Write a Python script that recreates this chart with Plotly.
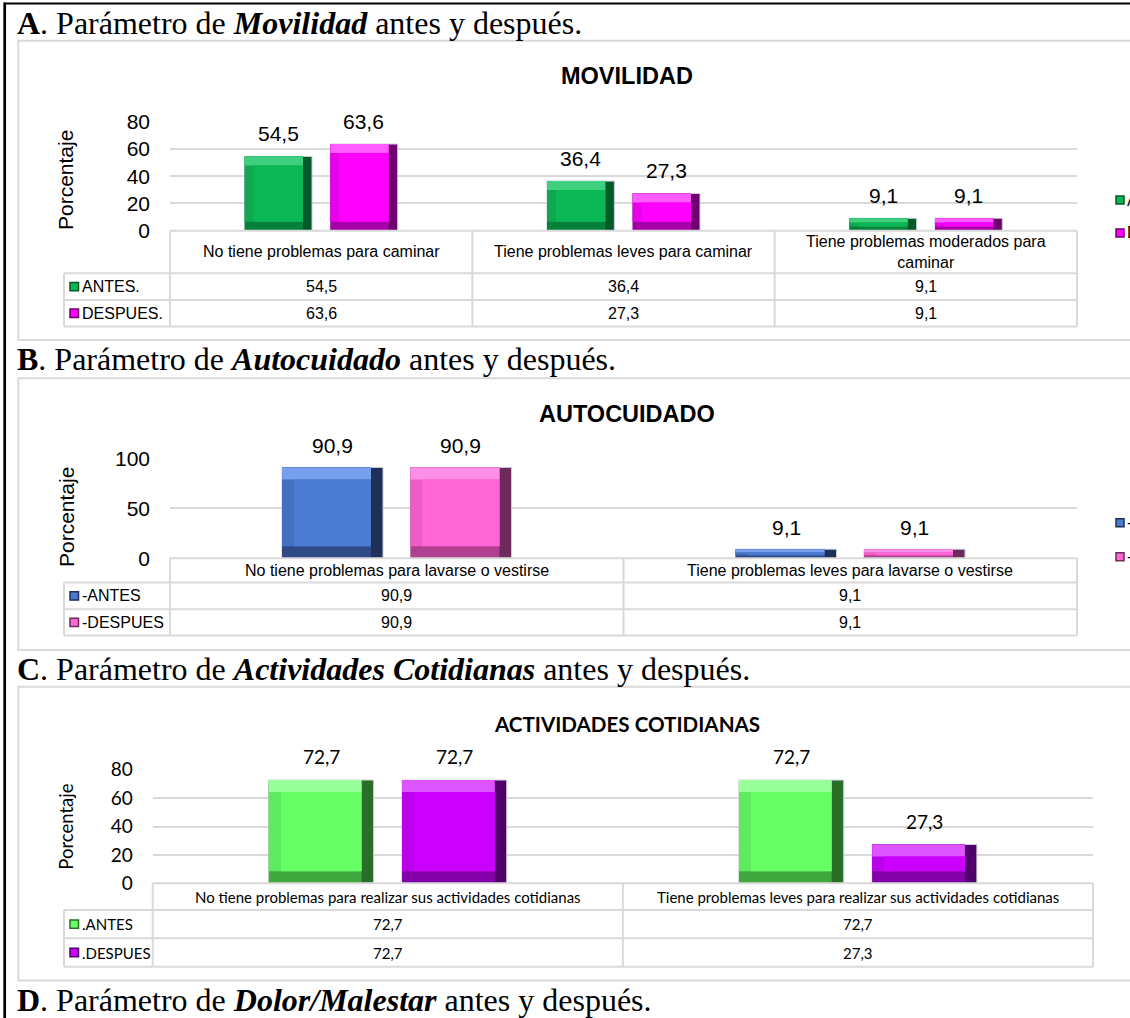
import plotly.graph_objects as go

W_PX, H_PX = 1130, 1018


def px(x):
    return x / W_PX


def py(y):
    return 1 - y / H_PX


# ---------------- data ----------------
mov_categories = ["No tiene problemas para caminar",
                  "Tiene problemas leves para caminar",
                  "Tiene problemas moderados para<br>caminar"]
mov_series = ["ANTES.", "DESPUES."]
mov_antes = [54.5, 36.4, 9.1]
mov_despues = [63.6, 27.3, 9.1]
mov_ticks = [0, 20, 40, 60, 80]

auto_categories = ["No tiene problemas para lavarse o vestirse",
                   "Tiene problemas leves para lavarse o vestirse"]
auto_series = ["-ANTES", "-DESPUES"]
auto_antes = [90.9, 9.1]
auto_despues = [90.9, 9.1]
auto_ticks = [0, 50, 100]

act_categories = ["No tiene problemas para realizar sus actividades cotidianas",
                  "Tiene problemas leves para realizar sus actividades cotidianas"]
act_series = [".ANTES", ".DESPUES"]
act_antes = [72.7, 72.7]
act_despues = [72.7, 27.3]
act_ticks = [0, 20, 40, 60, 80]

# ---------------- styling ----------------
ARIAL = "Liberation Sans"
CALIBRI = "Lato"
SERIF = "Liberation Serif"
GRID = "#D9D9D9"

# colour sets: face, top bevel, left bevel, bottom bevel, right bevel
panels = [
    dict(n="", title="MOVILIDAD", cats=mov_categories, series=mov_series,
         vals=[mov_antes, mov_despues], ticks=mov_ticks,
         colors=[("#0BB755", "#3ED07E", "#10A84E", "#07803B", "#045A28"),
                 ("#FF00FF", "#FF5CFF", "#E800E8", "#A800A8", "#6E006E")],
         x0=170, x1=1077, y0=230.7, y1=121.7, font=ARIAL, fs_tick=21, fs_val=21,
         fs_title=23.5, fs_tab=16, fs_ax=21, title_y=74.7, ax_x=65, ax_y=180,
         rows=[230.7, 273.3, 300, 326.5], bevel=9, legend_y=[200, 233], leg_x0=64,
         rlegend=True, tick_standoff=19, val_shift=9),
    dict(n="2", title="AUTOCUIDADO", cats=auto_categories, series=auto_series,
         vals=[auto_antes, auto_despues], ticks=auto_ticks,
         colors=[("#4A7BD0", "#76A0EC", "#4470C2", "#2E4B88", "#1E2F58"),
                 ("#FF66D6", "#FF8FE6", "#EE5CC6", "#B0408F", "#6E2A5A")],
         x0=170, x1=1077, y0=558.3, y1=458.3, font=ARIAL, fs_tick=21, fs_val=21,
         fs_title=23.5, fs_tab=16, fs_ax=21, title_y=412, ax_x=66, ax_y=517,
         rows=[558.3, 582.5, 609.3, 635.5], bevel=12, legend_y=[522.7, 556.7], leg_x0=64,
         rlegend=True, tick_standoff=19, val_shift=8),
    dict(n="3", title="ACTIVIDADES COTIDIANAS", cats=act_categories, series=act_series,
         vals=[act_antes, act_despues], ticks=act_ticks,
         colors=[("#66FF66", "#99FF99", "#5EEA5E", "#3FA83F", "#2A6E2A"),
                 ("#CC00FF", "#DD55FF", "#BB00EA", "#8400A8", "#50006A")],
         x0=152.7, x1=1093, y0=883.3, y1=769.7, font=CALIBRI, fs_tick=19, fs_val=19,
         fs_title=20.6, fs_tab=15, fs_ax=18.5, title_y=722.5, ax_x=66, ax_y=826.7,
         rows=[883.3, 910, 938.3, 966.7], bevel=12, legend_y=None, leg_x0=64,
         rlegend=False, tick_standoff=19, val_shift=10),
]

BAR_W = 0.2227
OFFSETS = [-0.253, 0.0303]

fig = go.Figure()
shapes = []
annotations = []


def line(x0, y0, x1, y1, color=GRID, width=2):
    shapes.append(dict(type="line", xref="paper", yref="paper",
                       x0=px(x0), y0=py(y0), x1=px(x1), y1=py(y1),
                       line=dict(color=color, width=width), layer="above"))


# outer page lines
line(4, 3.5, 1135, 3.5, color="black", width=2)
line(4.7, 2.5, 4.7, 1020, color="black", width=2.7)

# panel boxes
for (t, b) in [(40.7, 340), (378.3, 650), (686.7, 980.5)]:
    shapes.append(dict(type="rect", xref="paper", yref="paper",
                       x0=px(18.3), x1=px(1140), y0=py(b), y1=py(t),
                       line=dict(color=GRID, width=2), fillcolor="rgba(0,0,0,0)",
                       layer="below"))

# section headers
headers = [
    ("<b>A</b>. Parámetro de <b><i>Movilidad</i></b> antes y después.", 22.7),
    ("<b>B</b>. Parámetro de <b><i>Autocuidado</i></b> antes y después.", 359.5),
    ("<b>C</b>. Parámetro de <b><i>Actividades Cotidianas</i></b> antes y después.", 669),
    ("<b>D</b>. Parámetro de <b><i>Dolor/Malestar</i></b> antes y después.", 999.5),
]
for text, yc in headers:
    annotations.append(dict(text=text, xref="paper", yref="paper", x=px(15), y=py(yc),
                            xanchor="left", yanchor="middle", showarrow=False,
                            font=dict(family=SERIF, size=32, color="black")))

layout_axes = {}
for p in panels:
    n = p["n"]
    ncat = len(p["cats"])
    idx = list(range(ncat))
    xa, ya = "x" + n, "y" + n
    ymax = p["ticks"][-1]
    ppx = (p["x1"] - p["x0"]) / ncat
    ppy = (p["y0"] - p["y1"]) / ymax
    bx = p["bevel"] / ppx

    for k, vals in enumerate(p["vals"]):
        face, top, left, bottom, right = p["colors"][k]
        off = OFFSETS[k]
        by = [min(p["bevel"], v * ppy / 3) / ppy for v in vals]
        common = dict(x=idx, xaxis=xa, yaxis=ya, showlegend=False, hoverinfo="skip")
        # full bar (right bevel) with thin light outline
        fig.add_trace(go.Bar(y=vals, base=[0] * ncat, offset=off, width=BAR_W,
                             marker=dict(color=right, line=dict(color="#C8CCD4", width=1)),
                             name=p["series"][k], **common))
        # bottom bevel
        fig.add_trace(go.Bar(y=vals, base=[0] * ncat, offset=off, width=BAR_W - bx,
                             marker=dict(color=bottom, line=dict(width=0)), **common))
        # left bevel
        fig.add_trace(go.Bar(y=[v - b for v, b in zip(vals, by)], base=by, offset=off,
                             width=BAR_W - bx, marker=dict(color=left, line=dict(width=0)),
                             **common))
        # top bevel
        fig.add_trace(go.Bar(y=by, base=[v - b for v, b in zip(vals, by)], offset=off,
                             width=BAR_W - bx, marker=dict(color=top, line=dict(width=0)),
                             **common))
        # face
        fig.add_trace(go.Bar(y=[v - 2 * b for v, b in zip(vals, by)], base=by,
                             offset=off + bx, width=BAR_W - 2 * bx,
                             marker=dict(color=face, line=dict(width=0)), **common))
        for i, v in zip(idx, vals):
            annotations.append(dict(text=f"{v:.1f}".replace(".", ","), xref=xa, yref=ya,
                                    x=i + off + BAR_W / 2, y=v, yanchor="bottom",
                                    yshift=p["val_shift"], showarrow=False,
                                    font=dict(family=p["font"], size=p["fs_val"], color="black")))
        # table row values and legend key
        rtop, rbot = p["rows"][k + 1], p["rows"][k + 2]
        rc = (rtop + rbot) / 2
        for i, v in zip(idx, vals):
            annotations.append(dict(text=f"{v:.1f}".replace(".", ","), xref=xa, yref="paper",
                                    x=i, y=py(rc), yanchor="middle", showarrow=False,
                                    font=dict(family=p["font"], size=p["fs_tab"], color="black")))
        shapes.append(dict(type="rect", xref="paper", yref="paper",
                           x0=px(70), x1=px(78.5), y0=py(rc + 4.2), y1=py(rc - 4.2),
                           fillcolor=face, line=dict(color=right, width=1.5)))
        annotations.append(dict(text=p["series"][k], xref="paper", yref="paper",
                                x=px(80), y=py(rc), xanchor="left", yanchor="middle",
                                showarrow=False,
                                font=dict(family=p["font"], size=p["fs_tab"], color="black")))
        if p["rlegend"]:
            ly = p["legend_y"][k]
            shapes.append(dict(type="rect", xref="paper", yref="paper",
                               x0=px(1116), x1=px(1124), y0=py(ly + 4), y1=py(ly - 4),
                               fillcolor=face, line=dict(color=right, width=1.5)))
            annotations.append(dict(text=p["series"][k], xref="paper", yref="paper",
                                    x=px(1125), y=py(ly), xanchor="left", yanchor="middle",
                                    showarrow=False,
                                    font=dict(family=p["font"], size=p["fs_tab"], color="black")))

    # category row text
    r0, r1 = p["rows"][0], p["rows"][1]
    for i, c in enumerate(p["cats"]):
        annotations.append(dict(text=c, xref=xa, yref="paper", x=i, y=py((r0 + r1) / 2),
                                yanchor="middle", showarrow=False,
                                font=dict(family=p["font"], size=p["fs_tab"], color="black")))

    # table grid lines
    line(p["x0"], p["rows"][0], p["x1"], p["rows"][0])
    for r in p["rows"][1:]:
        line(p["leg_x0"], r, p["x1"], r)
    for i in range(ncat + 1):
        xx = p["x0"] + i * ppx
        line(xx, p["rows"][0], xx, p["rows"][-1])
    line(p["leg_x0"], p["rows"][1], p["leg_x0"], p["rows"][-1])

    # chart title and axis title
    annotations.append(dict(text=f"<b>{p['title']}</b>", xref="paper", yref="paper",
                            x=px(627), y=py(p["title_y"] + 1.5), yanchor="middle",
                            showarrow=False,
                            font=dict(family=p["font"], size=p["fs_title"], color="black")))
    annotations.append(dict(text="Porcentaje", xref="paper", yref="paper",
                            x=px(p["ax_x"]), y=py(p["ax_y"]), textangle=-90,
                            xanchor="center", yanchor="middle", showarrow=False,
                            font=dict(family=p["font"], size=p["fs_ax"], color="black")))

    layout_axes["xaxis" + n] = dict(domain=[px(p["x0"]), px(p["x1"])], range=[-0.5, ncat - 0.5],
                                    showticklabels=False, showgrid=False, zeroline=False,
                                    showline=False, ticks="", anchor=ya, fixedrange=True,
                                    automargin=False)
    layout_axes["yaxis" + n] = dict(domain=[py(p["y0"]), py(p["y1"])], range=[0, ymax],
                                    tickvals=p["ticks"], showgrid=True, gridcolor=GRID,
                                    gridwidth=2, zeroline=False, showline=False, ticks="",
                                    ticklabelstandoff=p["tick_standoff"], anchor=xa,
                                    tickfont=dict(family=p["font"], size=p["fs_tick"], color="black"),
                                    fixedrange=True, automargin=False)

fig.update_layout(
    width=W_PX, height=H_PX,
    margin=dict(l=0, r=0, t=0, b=0, pad=0, autoexpand=False),
    paper_bgcolor="white", plot_bgcolor="white",
    barmode="overlay", showlegend=False,
    shapes=shapes, annotations=annotations,
    **layout_axes,
)

fig.write_html("out.html", config={"displayModeBar": False},
               post_script="document.body.style.margin='0';document.body.style.overflow='hidden';")
